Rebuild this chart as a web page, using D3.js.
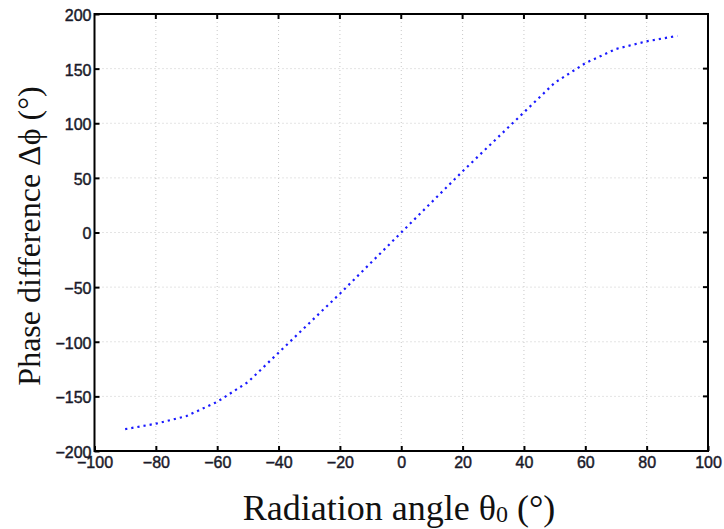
<!DOCTYPE html>
<html>
<head>
<meta charset="utf-8">
<script src="https://cdn.jsdelivr.net/npm/d3@7"></script>
<style>
  body { margin: 0; background: #fff; }
  .tick text { font-family: "Liberation Sans", Arial, sans-serif; font-size: 16px; fill: #1a1a2a; stroke: #1a1a2a; stroke-width: 0.45px; }
</style>
</head>
<body>
<main></main>
<script>
// Datos
const angulos = [-90, -80, -70, -60, -50, -40, -30, -20, -10, 0, 10, 20, 30, 40, 50, 60, 70, 80, 90];
const fases = [-180, -175, -168, -155, -137, -110, -83, -56, -28, 0, 28, 56, 83, 110, 137, 155, 168, 175, 180];
const ticksX = [-100, -80, -60, -40, -20, 0, 20, 40, 60, 80, 100];
const ticksY = [-200, -150, -100, -50, 0, 50, 100, 150, 200];

const [w, h] = [724, 529];
const m = { left: 94.5, right: 708, top: 14, bottom: 451 };

const svg = d3.select('main').append('svg')
    .attr('width', w)
    .attr('height', h);

const xScale = d3.scaleLinear().domain([-100, 100]).range([m.left, m.right]);
const yScale = d3.scaleLinear().domain([-200, 200]).range([m.bottom, m.top]);

// Rejilla punteada
svg.append('g').selectAll('line')
    .data(ticksX.slice(1, -1))
    .join('line')
    .attr('x1', d => xScale(d)).attr('x2', d => xScale(d))
    .attr('y1', m.top).attr('y2', m.bottom)
    .attr('stroke', '#c8c8c8').attr('stroke-width', 1)
    .attr('stroke-dasharray', '1,3');

svg.append('g').selectAll('line')
    .data(ticksY.slice(1, -1))
    .join('line')
    .attr('x1', m.left).attr('x2', m.right)
    .attr('y1', d => yScale(d)).attr('y2', d => yScale(d))
    .attr('stroke', '#c8c8c8').attr('stroke-width', 1)
    .attr('stroke-dasharray', '1,3');

// Ejes con ticks hacia dentro
const fmt = d => d < 0 ? '\u2212' + Math.abs(d) : String(d);

const ejeX = svg.append('g')
    .attr('transform', 'translate(0,' + m.bottom + ')')
    .call(d3.axisBottom(xScale).tickValues(ticksX).tickFormat(fmt).tickSizeInner(-5).tickSizeOuter(0).tickPadding(6));

const ejeY = svg.append('g')
    .attr('transform', 'translate(' + m.left + ',0)')
    .call(d3.axisLeft(yScale).tickValues(ticksY).tickFormat(fmt).tickSizeInner(-5).tickSizeOuter(0).tickPadding(3));

ejeX.select('.domain').remove();
ejeY.select('.domain').remove();
svg.selectAll('.tick line').attr('stroke', '#000').attr('stroke-width', 2);
ejeY.selectAll('.tick text').attr('dy', '0.4em');

// Ticks superiores y derechos
svg.append('g').selectAll('line')
    .data(ticksX.slice(1, -1))
    .join('line')
    .attr('x1', d => xScale(d)).attr('x2', d => xScale(d))
    .attr('y1', m.top).attr('y2', m.top + 5)
    .attr('stroke', '#000').attr('stroke-width', 2);

svg.append('g').selectAll('line')
    .data(ticksY.slice(1, -1))
    .join('line')
    .attr('x1', m.right).attr('x2', m.right - 5)
    .attr('y1', d => yScale(d)).attr('y2', d => yScale(d))
    .attr('stroke', '#000').attr('stroke-width', 2);

// Marco
svg.append('rect')
    .attr('x', m.left).attr('y', m.top)
    .attr('width', m.right - m.left).attr('height', m.bottom - m.top)
    .attr('fill', 'none').attr('stroke', '#000').attr('stroke-width', 2);

// Curva punteada
const linea = d3.line()
    .x((d, i) => xScale(angulos[i]))
    .y(d => yScale(d));

svg.append('path')
    .datum(fases)
    .attr('d', linea)
    .attr('fill', 'none')
    .attr('stroke', '#1a1aff')
    .attr('stroke-width', 2.2)
    .attr('stroke-dasharray', '2.2,4');

// Títulos
const titX = svg.append('text')
    .attr('x', 399).attr('y', 520)
    .attr('text-anchor', 'middle')
    .attr('font-family', '"Liberation Serif", "Times New Roman", serif')
    .attr('font-size', 36)
    .attr('fill', '#111');
titX.append('tspan').text('Radiation angle \u03b8');
titX.append('tspan').attr('font-size', 24).attr('dy', 2).text('0');
titX.append('tspan').attr('dy', -2).text(' (\u00b0)');

const titY = svg.append('text')
    .attr('transform', 'translate(40,236) rotate(-90)')
    .attr('text-anchor', 'middle')
    .attr('font-family', '"Liberation Serif", "Times New Roman", serif')
    .attr('font-size', 32)
    .attr('fill', '#111')
    .text('Phase difference \u0394\u03d5 (\u00b0)');
</script>
</body>
</html>
